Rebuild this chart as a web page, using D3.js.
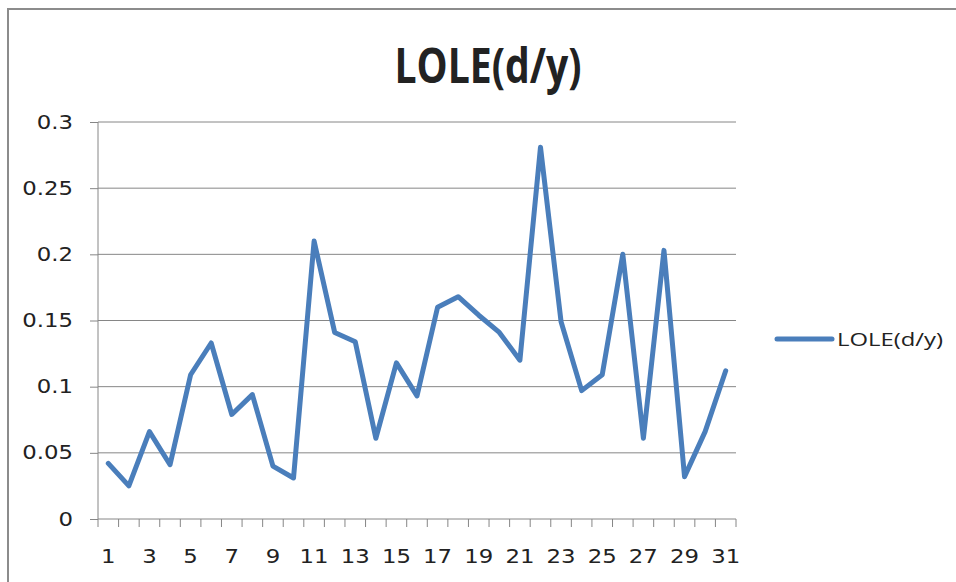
<!DOCTYPE html>
<html>
<head>
<meta charset="utf-8">
<script src="https://cdn.jsdelivr.net/npm/d3@7"></script>
<style>
	body { margin: 0; background: #fff; }
	svg text { fill: #222; }
</style>
</head>
<body>
<div id="chart"></div>
<script>
// LOLE values per day
const days = d3.range(1, 32);
const lole = [
	0.042, 0.025, 0.066, 0.041, 0.109, 0.133, 0.079, 0.094, 0.040, 0.031,
	0.210, 0.141, 0.134, 0.061, 0.118, 0.093, 0.160, 0.168, 0.154, 0.141,
	0.120, 0.281, 0.149, 0.097, 0.109, 0.200, 0.061, 0.203, 0.032, 0.066,
	0.112
];
const yTicks = [0, 0.05, 0.1, 0.15, 0.2, 0.25, 0.3];
const seriesName = "LOLE(d/y)";

const W = 956, H = 582;
const margin = { top: 122, right: 220, bottom: 63, left: 98 };
const width = W - margin.left - margin.right;
const height = H - margin.top - margin.bottom;
const tickFont = "'DejaVu Sans', Verdana, sans-serif";

// widen tick labels a bit, the source font is broader than DejaVu
function widen(sel, k) {
	sel.each(function() {
		const len = this.getComputedTextLength();
		d3.select(this)
			.attr("textLength", len * k)
			.attr("lengthAdjust", "spacingAndGlyphs");
	});
}

const svg = d3.select("#chart").append("svg")
	.attr("width", W)
	.attr("height", H);

// chart frame
svg.append("rect")
	.attr("x", 8).attr("y", 9)
	.attr("width", W + 20).attr("height", H + 20)
	.attr("fill", "#fff")
	.attr("stroke", "#8c8c8c")
	.attr("stroke-width", 2);

svg.append("text")
	.attr("x", 488).attr("y", 83)
	.attr("text-anchor", "middle")
	.attr("textLength", 187)
	.attr("lengthAdjust", "spacingAndGlyphs")
	.style("font-family", "'Open Sans', sans-serif")
	.style("font-weight", "bold")
	.style("font-size", "48px")
	.text(seriesName);

const g = svg.append("g").attr("transform", `translate(${margin.left},${margin.top})`);

const x = d3.scaleBand().domain(days).range([0, width]);
const y = d3.scaleLinear().domain([0, 0.3]).range([height, 0]);

// gridlines
g.selectAll(".grid").data(yTicks.slice(1)).enter()
	.append("line")
	.attr("class", "grid")
	.attr("x1", 0).attr("x2", width)
	.attr("y1", d => y(d)).attr("y2", d => y(d))
	.attr("stroke", "#868686")
	.attr("stroke-width", 1);

// y axis
const yAxis = g.append("g")
	.call(d3.axisLeft(y).tickValues(yTicks).tickSize(8).tickPadding(17).tickFormat(d => String(+d.toFixed(2))));
yAxis.select(".domain").attr("stroke", "#868686").attr("d", `M0,0V${height}`);
yAxis.selectAll(".tick line").attr("stroke", "#868686");
yAxis.selectAll(".tick text")
	.style("font-family", tickFont)
	.style("font-size", "19px")
	.attr("fill", "#222")
	.call(widen, 1.2);

// x axis: ticks at category boundaries, labels on odd days
const xAxis = g.append("g").attr("transform", `translate(0,${height})`);
xAxis.append("line")
	.attr("x1", 0).attr("x2", width)
	.attr("stroke", "#868686");
xAxis.selectAll(".xt").data(d3.range(0, days.length + 1)).enter()
	.append("line")
	.attr("class", "xt")
	.attr("x1", i => i * x.bandwidth()).attr("x2", i => i * x.bandwidth())
	.attr("y1", 0).attr("y2", 8)
	.attr("stroke", "#868686");
xAxis.selectAll(".xl").data(days.filter(d => d % 2 === 1)).enter()
	.append("text")
	.attr("class", "xl")
	.attr("x", d => x(d) + x.bandwidth() / 2)
	.attr("y", 44)
	.attr("text-anchor", "middle")
	.style("font-family", tickFont)
	.style("font-size", "19px")
	.text(d => d)
	.call(widen, 1.2);

// series line
const line = d3.line()
	.x((d, i) => x(days[i]) + x.bandwidth() / 2)
	.y(d => y(d));

g.append("path")
	.datum(lole)
	.attr("d", line)
	.attr("fill", "none")
	.attr("stroke", "#4a7ebb")
	.attr("stroke-width", 5)
	.attr("stroke-linejoin", "round")
	.attr("stroke-linecap", "round");

// legend
const legend = svg.append("g").attr("transform", "translate(777,339)");
legend.append("line")
	.attr("x1", 0).attr("x2", 55)
	.attr("stroke", "#4a7ebb")
	.attr("stroke-width", 5)
	.attr("stroke-linecap", "round");
legend.append("text")
	.attr("x", 60).attr("y", 7)
	.attr("textLength", 106)
	.attr("lengthAdjust", "spacingAndGlyphs")
	.style("font-family", "'Open Sans', sans-serif")
	.style("font-size", "19px")
	.text(seriesName);
</script>
</body>
</html>
